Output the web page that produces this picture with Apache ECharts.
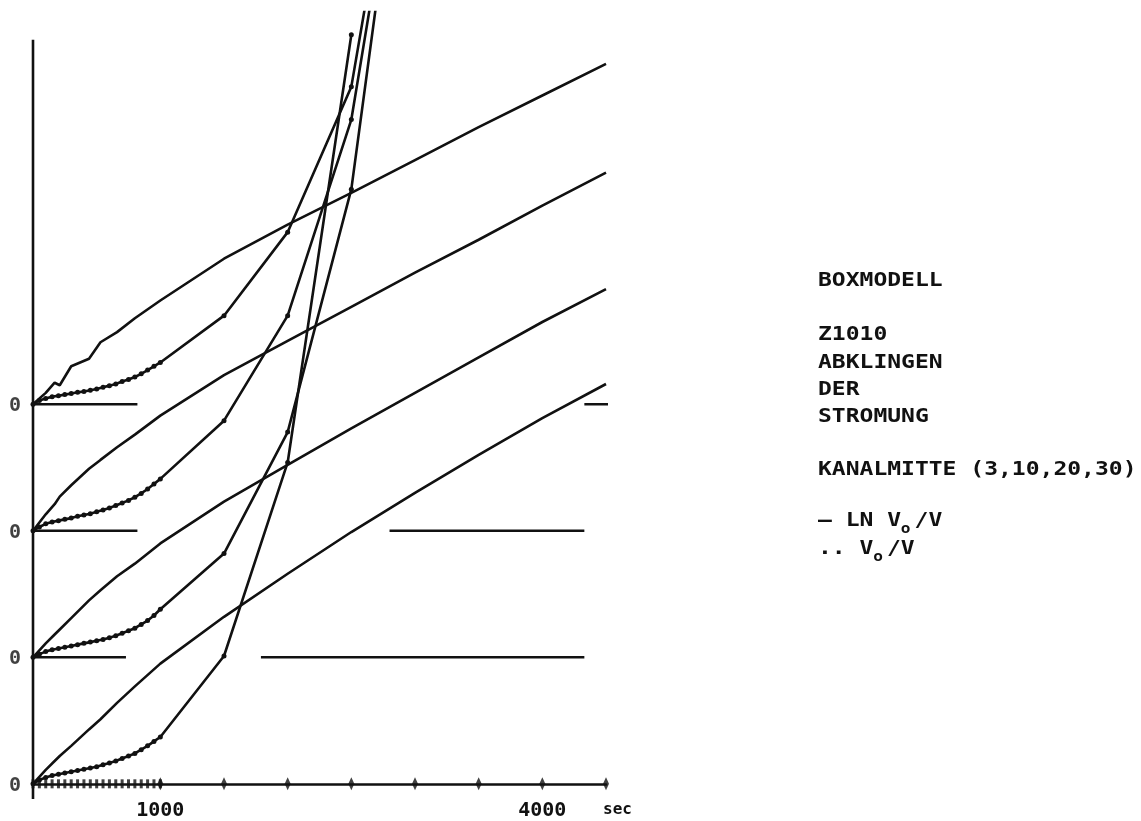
<!DOCTYPE html>
<html>
<head>
<meta charset="utf-8">
<script src="https://cdn.jsdelivr.net/npm/echarts@6/dist/echarts.min.js"></script>
<style>html,body{margin:0;padding:0;background:#fff}#c{width:1141px;height:821px}</style>
</head>
<body>
<div id="c"></div>
<script>
// ---- data (seconds, curve values in plot units above each baseline) ----
const lnTime = [0, 100, 170, 210, 300, 440, 530, 660, 800, 1000, 1500, 2000, 2500, 3000, 3500, 4000, 4500];
const lnTop    = [0, 0.09, 0.17, 0.15, 0.30, 0.36, 0.49, 0.57, 0.68, 0.82, 1.15, 1.42, 1.67, 1.93, 2.19, 2.44, 2.69];
const lnSecond = [0, 0.13, 0.21, 0.27, 0.36, 0.49, 0.56, 0.66, 0.76, 0.91, 1.23, 1.50, 1.77, 2.04, 2.30, 2.57, 2.83];
const lnThird  = [0, 0.11, 0.18, 0.22, 0.31, 0.45, 0.53, 0.64, 0.74, 0.90, 1.23, 1.52, 1.81, 2.09, 2.37, 2.65, 2.91];
const lnBottom = [0, 0.11, 0.18, 0.22, 0.30, 0.43, 0.51, 0.64, 0.77, 0.95, 1.32, 1.66, 1.99, 2.30, 2.60, 2.89, 3.16];

const vTime = [0, 50, 100, 150, 200, 250, 300, 350, 400, 450, 500, 550, 600, 650, 700, 750, 800, 850, 900, 950, 1000, 1500, 2000, 2500, 3000];
const vTop    = [0, 0.03, 0.045, 0.06, 0.067, 0.076, 0.085, 0.094, 0.10, 0.11, 0.12, 0.135, 0.147, 0.16, 0.18, 0.195, 0.215, 0.24, 0.27, 0.30, 0.33, 0.70, 1.36, 2.51, 5.44];
const vSecond = [0, 0.03, 0.055, 0.07, 0.08, 0.09, 0.10, 0.115, 0.125, 0.135, 0.15, 0.165, 0.18, 0.20, 0.22, 0.24, 0.265, 0.295, 0.33, 0.37, 0.41, 0.87, 1.70, 3.25, 6.29];
const vThird  = [0, 0.025, 0.045, 0.06, 0.07, 0.08, 0.09, 0.10, 0.11, 0.12, 0.13, 0.14, 0.155, 0.17, 0.19, 0.21, 0.23, 0.26, 0.29, 0.33, 0.38, 0.82, 1.78, 3.70, 7.44];
const vBottom = [0, 0.03, 0.05, 0.065, 0.075, 0.085, 0.095, 0.105, 0.115, 0.125, 0.135, 0.15, 0.165, 0.18, 0.20, 0.22, 0.24, 0.27, 0.30, 0.335, 0.37, 1.01, 2.54, 5.92];

// zero-line pieces drawn for each curve group [start, end] in seconds
const zeroTop    = [[0, 820], [4330, 4700]];
const zeroSecond = [[0, 820], [2800, 4330]];
const zeroThird  = [[0, 730], [1790, 4330]];
const zeroBottomMarks = [0, 50, 100, 150, 200, 250, 300, 350, 400, 450, 500, 550, 600, 650, 700, 750, 800, 850, 900, 950, 1000];
const axisTicks = [1000, 1500, 2000, 2500, 3000, 3500, 4000, 4500];
const xLabels = [1000, 4000];
const groupOffsets = [3, 2, 1, 0]; // top, second, third, bottom
const yAxisSpan = [-0.12, 5.88];

// ---- build ----
const INK = '#111';
const LW = 2.6;
const FONT = 'DejaVu Sans Mono';
const lnSets = [lnTop, lnSecond, lnThird, lnBottom];
const vSets = [vTop, vSecond, vThird, vBottom];
const series = [];

lnSets.forEach((vals, g) => {
  series.push({
    type: 'line', name: 'LN V0/V', silent: true, symbol: 'none',
    lineStyle: { color: INK, width: LW },
    data: vals.map((v, i) => [lnTime[i], v + groupOffsets[g]])
  });
});
vSets.forEach((vals, g) => {
  series.push({
    type: 'line', name: 'V0/V', silent: true, symbol: 'circle', symbolSize: 5, showAllSymbol: true,
    itemStyle: { color: INK }, lineStyle: { color: INK, width: LW },
    data: vals.map((v, i) => [vTime[i], v + groupOffsets[g]])
  });
});
[zeroTop, zeroSecond, zeroThird].forEach((segs, g) => {
  segs.forEach(seg => {
    series.push({
      type: 'line', silent: true, symbol: 'none', clip: false,
      lineStyle: { color: INK, width: LW },
      data: seg.map(t => [t, groupOffsets[g]])
    });
  });
});
// zero labels
series.push({
  type: 'scatter', silent: true, symbolSize: 0, clip: false,
  data: groupOffsets.map(o => [0, o]),
  label: { show: true, position: 'left', distance: 12, offset: [0, 2], formatter: '0',
           fontFamily: FONT, fontWeight: 'bold', fontSize: 20, color: INK }
});
// bottom zero line dense marks
series.push({
  type: 'scatter', silent: true, symbol: 'rect', symbolSize: [3, 9], clip: false,
  itemStyle: { color: INK }, data: zeroBottomMarks.map(t => [t, 0])
});
// x axis tick marks (plotter style, crossing the axis)
series.push({
  type: 'scatter', silent: true, symbol: 'diamond', symbolSize: [6, 13], clip: false,
  itemStyle: { color: INK }, data: axisTicks.map(t => [t, 0])
});
// y axis line
series.push({
  type: 'line', silent: true, symbol: 'none', clip: false,
  lineStyle: { color: INK, width: LW }, data: yAxisSpan.map(v => [0, v])
});

const chart = echarts.init(document.getElementById('c'), null, { renderer: 'canvas' });
const CELL = 13.8, X0 = 818;
function t(s, cell, y, size) {
  return { type: 'text', x: X0 + cell * CELL, y: y, scaleX: 1.15, originX: 0,
           style: { text: s, fill: INK, fontFamily: FONT, fontWeight: 'bold', fontSize: size || 20, verticalAlign: 'middle' } };
}
const panel = [
  ['BOXMODELL', 281], ['Z1010', 335], ['ABKLINGEN', 363], ['DER', 390], ['STROMUNG', 417],
  ['KANALMITTE (3,10,20,30)', 470]
];
const graphics = panel.map(([s, y]) => t(s, 0, y));
graphics.push(t('\u2014 LN V', 0, 521));
graphics.push(t('o', 6, 529, 14));
graphics.push(t('/V', 7, 521));
graphics.push(t('.. V', 0, 549));
graphics.push(t('o', 4, 557, 14));
graphics.push(t('/V', 5, 549));

chart.setOption({
  animation: false,
  backgroundColor: '#fff',
  grid: { left: 33, right: 535, top: 12, bottom: 21, containLabel: false },
  xAxis: {
    type: 'value', min: 0, max: 4500, interval: 500,
    name: 'sec', nameLocation: 'end', nameGap: -3,
    nameTextStyle: { fontFamily: FONT, fontWeight: 'bold', fontSize: 16, color: INK, verticalAlign: 'top', padding: [18, 0, 0, 0] },
    axisLine: { show: true, onZero: true, lineStyle: { color: INK, width: LW } },
    axisTick: { show: false },
    splitLine: { show: false },
    axisLabel: {
      show: true, margin: 2, color: INK, fontFamily: FONT, fontWeight: 'bold', fontSize: 20,
      formatter: v => (xLabels.indexOf(v) >= 0 ? String(v) : '')
    }
  },
  yAxis: {
    type: 'value', min: yAxisSpan[0], max: 6.1,
    axisLine: { show: false }, axisTick: { show: false }, axisLabel: { show: false }, splitLine: { show: false }
  },
  graphic: graphics,
  series: series
});
</script>
</body>
</html>
